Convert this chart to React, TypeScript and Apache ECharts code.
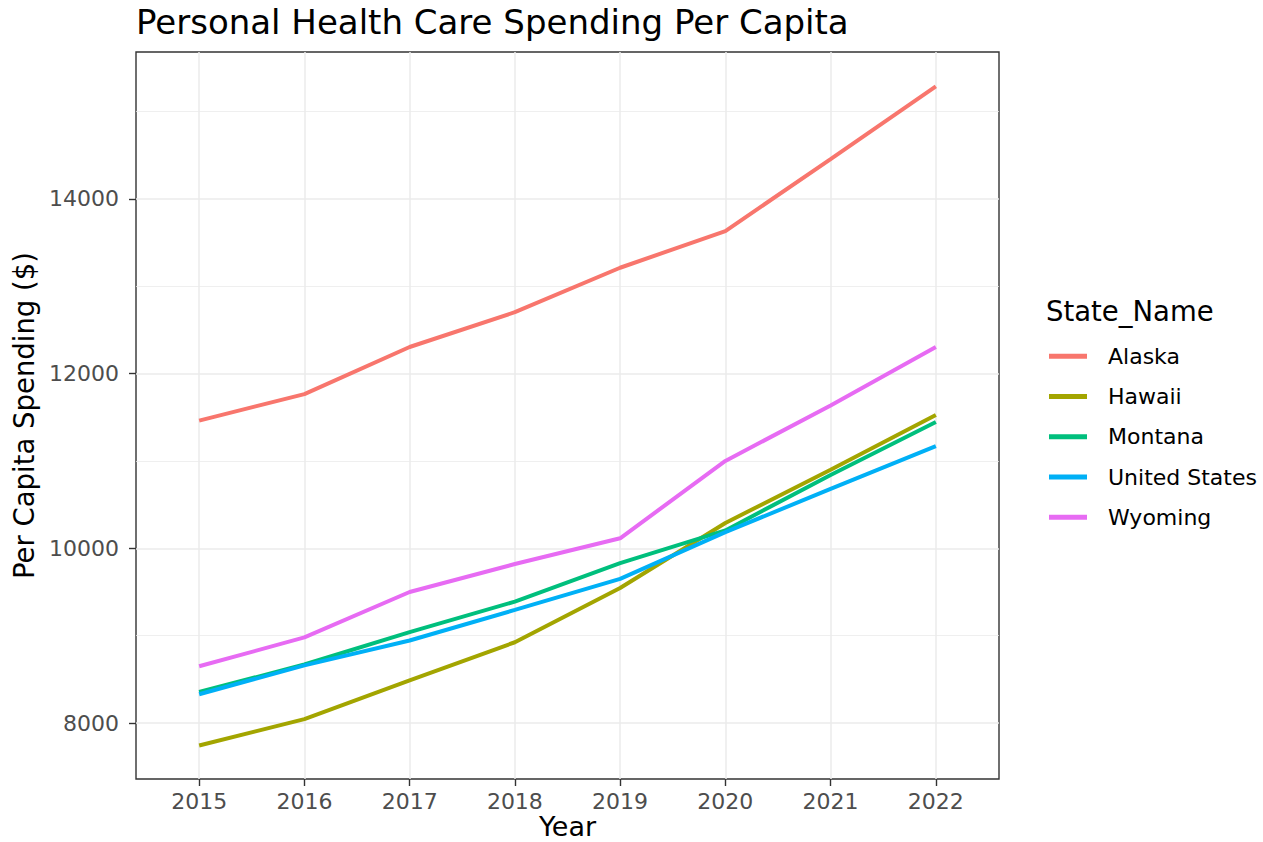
import React, { useEffect, useRef } from "react";
import * as echarts from "echarts";

const years = [2015, 2016, 2017, 2018, 2019, 2020, 2021, 2022];
const seriesNames = ["Alaska", "Hawaii", "Montana", "United States", "Wyoming"];
const alaska = [11462, 11765, 12304, 12702, 13211, 13631, 14453, 15287];
const hawaii = [7744, 8045, 8490, 8925, 9545, 10290, 10900, 11525];
const montana = [8355, 8670, 9040, 9390, 9830, 10205, 10840, 11445];
const unitedStates = [8330, 8660, 8945, 9295, 9650, 10185, 10680, 11170];
const wyoming = [8650, 8980, 9500, 9820, 10115, 11000, 11635, 12305];
const yMajorTicks = [8000, 10000, 12000, 14000];
const yMinorTicks = [9000, 11000, 13000, 15000];
const colors = ["#F8766D", "#A3A500", "#00BF7D", "#00B0F6", "#E76BF3"];

const FONT = "DejaVu Sans";

export default function App() {
  const ref = useRef<HTMLDivElement>(null);
  useEffect(() => {
    if (!ref.current) return;
    const chart = echarts.init(ref.current, null, { renderer: "svg" });
    const values = [alaska, hawaii, montana, unitedStates, wyoming];
    const lineSeries = seriesNames.map((name, i) => ({
      name,
      type: "line",
      data: years.map((y, j) => [y, values[i][j]]),
      showSymbol: false,
      symbol: "none",
      lineStyle: { width: 4, color: colors[i] },
      itemStyle: { color: colors[i] },
      z: 3,
      silent: true,
    }));
    const gridLines = {
      name: "__grid",
      type: "line",
      data: [],
      silent: true,
      z: 1,
      markLine: {
        silent: true,
        symbol: "none",
        z: 1,
        label: { show: false },
        emphasis: { disabled: true },
        lineStyle: { color: "#EBEBEB", type: "solid", width: 1.5 },
        data: [
          ...yMinorTicks.map((v) => ({ yAxis: v, lineStyle: { color: "#EBEBEB", type: "solid", width: 0.8 } })),
          ...yMajorTicks.map((v) => ({ yAxis: v })),
          ...years.map((v) => ({ xAxis: v })),
        ],
      },
    };
    chart.setOption({
      animation: false,
      backgroundColor: "#FFFFFF",
      textStyle: { fontFamily: FONT },
      title: [
        {
          text: "Personal Health Care Spending Per Capita",
          left: 136,
          top: 5,
          padding: 0,
          textStyle: { fontFamily: FONT, fontSize: 34, fontWeight: "normal", color: "#000000" },
        },
        {
          text: "State_Name",
          left: 1046,
          top: 297,
          padding: 0,
          textStyle: { fontFamily: FONT, fontSize: 27.5, fontWeight: "normal", color: "#000000" },
        },
      ],
      legend: {
        data: seriesNames,
        orient: "vertical",
        left: 1049,
        top: 336,
        padding: 0,
        itemGap: 0,
        itemWidth: 38,
        itemHeight: 5,
        icon: "rect",
        selectedMode: false,
        textStyle: {
          fontFamily: FONT,
          fontSize: 22,
          color: "#000000",
          lineHeight: 40.3,
          padding: [0, 0, 0, 16],
        },
      },
      grid: {
        left: 136,
        top: 52,
        width: 863,
        height: 727,
        show: true,
        borderColor: "#333333",
        borderWidth: 1.4,
        backgroundColor: "transparent",
        containLabel: false,
        outerBoundsMode: "none",
      },
      xAxis: {
        type: "value",
        min: 2014.4,
        max: 2022.6,
        name: "Year",
        nameLocation: "middle",
        nameGap: 35,
        nameMoveOverlap: false,
        nameTextStyle: { fontFamily: FONT, fontSize: 27, lineHeight: 24, color: "#000000" },
        axisLine: { show: false },
        axisTick: {
          show: true,
          length: 7,
          customValues: years,
          lineStyle: { color: "#333333", width: 1.4 },
        },
        axisLabel: {
          customValues: years,
          margin: 11,
          fontFamily: FONT,
          fontSize: 22,
          color: "#4D4D4D",
          formatter: (v: number) => String(v),
        },
        splitLine: { show: false },
      },
      yAxis: {
        type: "value",
        min: 7360,
        max: 15680,
        name: "Per Capita Spending ($)",
        nameLocation: "middle",
        nameGap: 92,
        nameTextStyle: { fontFamily: FONT, fontSize: 27.5, color: "#000000" },
        axisLine: { show: false },
        axisTick: {
          show: true,
          length: 7,
          customValues: yMajorTicks,
          lineStyle: { color: "#333333", width: 1.4 },
        },
        axisLabel: {
          customValues: yMajorTicks,
          margin: 17,
          fontFamily: FONT,
          fontSize: 22,
          color: "#4D4D4D",
          formatter: (v: number) => String(v),
        },
        splitLine: { show: false },
      },
      series: [gridLines, ...lineSeries],
    });
    return () => chart.dispose();
  }, []);
  return (
    <div
      ref={ref}
      style={{ position: "fixed", left: 0, top: 0, width: 1263, height: 842, background: "#fff" }}
    />
  );
}
